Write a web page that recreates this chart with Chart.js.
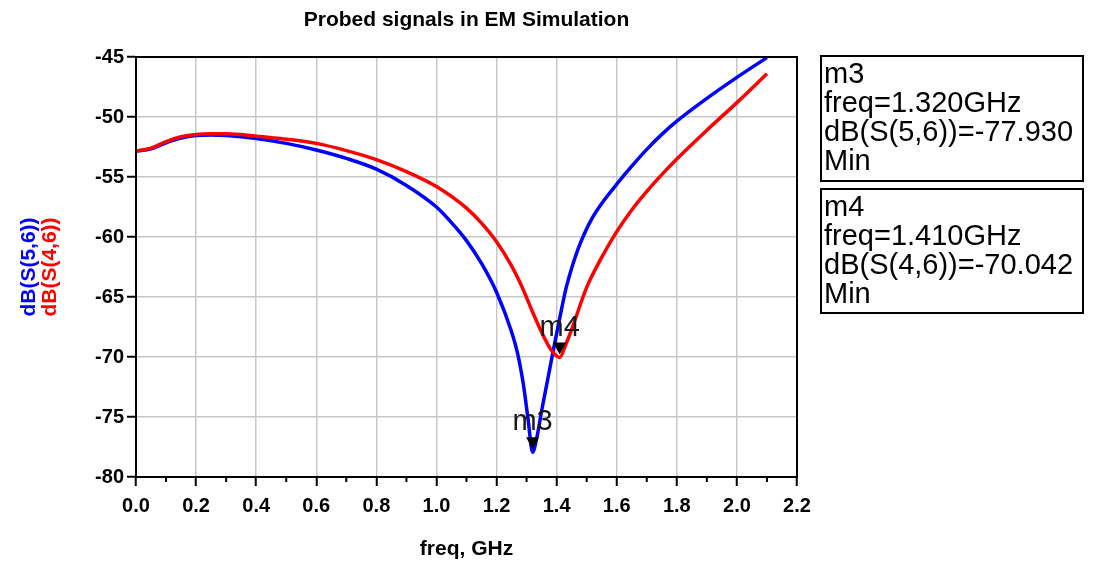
<!DOCTYPE html>
<html lang="en">
<head>
    <meta charset="UTF-8">
    <title>Probed signals in EM Simulation</title>
    <script src="https://cdn.jsdelivr.net/npm/chart.js"></script>
    <style>
        body { margin: 0; background: #fff; }
        .container { width: 1101px; height: 564px; position: relative; }
    </style>
</head>
<body>
<div class="container">
    <canvas id="emChart"></canvas>
</div>

<script>
    // dB(S(5,6)) : frequency (GHz) and value
    const f56 = [0, 0.05, 0.1, 0.15, 0.2, 0.25, 0.3, 0.4, 0.5, 0.6, 0.7, 0.8, 0.9, 1.0, 1.05,
        1.1, 1.15, 1.2, 1.25, 1.27, 1.29, 1.305, 1.32, 1.335, 1.35, 1.37, 1.39, 1.41, 1.43, 1.45,
        1.47, 1.49, 1.52, 1.55, 1.6, 1.65, 1.7, 1.75, 1.8, 1.9, 2.0, 2.1];
    const s56 = [-52.85, -52.65, -52.15, -51.75, -51.55, -51.5, -51.55, -51.8, -52.2, -52.75, -53.45, -54.35, -55.7, -57.5, -58.8,
        -60.3, -62.2, -64.6, -67.9, -69.7, -72.4, -75.2, -77.93, -76.6, -74.5, -71.9, -69.3, -66.8, -64.4, -62.6,
        -61.1, -59.85, -58.35, -57.2, -55.6, -54.1, -52.7, -51.45, -50.35, -48.45, -46.7, -45.05];

    // dB(S(4,6)) : frequency (GHz) and value
    const f46 = [0, 0.05, 0.1, 0.15, 0.2, 0.25, 0.3, 0.4, 0.5, 0.6, 0.7, 0.8, 0.9, 1.0,
        1.1, 1.15, 1.2, 1.25, 1.28, 1.3, 1.32, 1.34, 1.36, 1.38, 1.41, 1.43, 1.45, 1.5, 1.55,
        1.6, 1.65, 1.7, 1.75, 1.8, 1.9, 2.0, 2.1];
    const s46 = [-52.85, -52.6, -52.05, -51.65, -51.45, -51.4, -51.4, -51.6, -51.85, -52.2, -52.8, -53.55, -54.55, -55.8,
        -57.6, -58.85, -60.4, -62.4, -63.9, -65.05, -66.25, -67.4, -68.45, -69.35, -70.04, -69.0, -67.7, -64.2, -61.7,
        -59.55, -57.75, -56.2, -54.8, -53.5, -51.1, -48.8, -46.4];

    const xTicks = [0, 0.2, 0.4, 0.6, 0.8, 1.0, 1.2, 1.4, 1.6, 1.8, 2.0, 2.2];
    const yTicks = [-80, -75, -70, -65, -60, -55, -50, -45];

    // markers
    const markerNames = ['m3', 'm4'];
    const markerFreq = [1.320, 1.410];
    const markerValue = [-77.930, -70.042];
    const markerTrace = ['dB(S(5,6))', 'dB(S(4,6))'];

    const FONT = '"Liberation Sans", Arial, sans-serif';
    Chart.defaults.font.family = FONT;

    const overlay = {
        id: 'overlay',
        afterDraw(chart) {
            const ctx = chart.ctx;
            const a = chart.chartArea;
            const xs = chart.scales.x, ys = chart.scales.y;
            ctx.save();

            // minor x ticks
            ctx.strokeStyle = '#000';
            ctx.lineWidth = 2;
            for (let i = 0; i < xTicks.length - 1; i++) {
                const px = xs.getPixelForValue((xTicks[i] + xTicks[i + 1]) / 2);
                ctx.beginPath();
                ctx.moveTo(px, a.bottom);
                ctx.lineTo(px, a.bottom + 5);
                ctx.stroke();
            }

            // frame
            ctx.strokeRect(a.left, a.top, a.right - a.left, a.bottom - a.top);

            // title
            ctx.fillStyle = '#000';
            ctx.font = 'bold 21px ' + FONT;
            ctx.textAlign = 'center';
            ctx.textBaseline = 'middle';
            ctx.fillText('Probed signals in EM Simulation', (a.left + a.right) / 2, 20);

            // y axis titles
            const cy = (a.top + a.bottom) / 2;
            ctx.save();
            ctx.translate(29, cy);
            ctx.rotate(-Math.PI / 2);
            ctx.fillStyle = '#0000ff';
            ctx.fillText('dB(S(5,6))', 0, 0);
            ctx.restore();
            ctx.save();
            ctx.translate(50, cy);
            ctx.rotate(-Math.PI / 2);
            ctx.fillStyle = '#ff0000';
            ctx.fillText('dB(S(4,6))', 0, 0);
            ctx.restore();

            // marker triangles and labels
            ctx.font = '29px ' + FONT;
            ctx.textAlign = 'center';
            ctx.textBaseline = 'alphabetic';
            for (let i = 0; i < markerNames.length; i++) {
                const px = xs.getPixelForValue(markerFreq[i]);
                const py = ys.getPixelForValue(markerValue[i]);
                ctx.fillStyle = '#000';
                ctx.beginPath();
                ctx.moveTo(px, py - 3);
                ctx.lineTo(px - 6.5, py - 15);
                ctx.lineTo(px + 6.5, py - 15);
                ctx.closePath();
                ctx.fill();
                ctx.fillStyle = '#1a1a1a';
                ctx.fillText(markerNames[i], px, py - 22);
            }

            // marker readout boxes
            const boxes = [[821, 56, 262, 125], [821, 189, 262, 124]];
            ctx.textAlign = 'left';
            ctx.textBaseline = 'middle';
            ctx.lineWidth = 2;
            for (let i = 0; i < markerNames.length; i++) {
                const [bx, by, bw, bh] = boxes[i];
                ctx.strokeStyle = '#000';
                ctx.strokeRect(bx, by, bw, bh);
                const lines = [
                    markerNames[i],
                    'freq=' + markerFreq[i].toFixed(3) + 'GHz',
                    markerTrace[i] + '=' + markerValue[i].toFixed(3),
                    'Min'
                ];
                ctx.fillStyle = '#000';
                lines.forEach((t, k) => ctx.fillText(t, bx + 3, by + 19 + k * 29));
            }
            ctx.restore();
        }
    };

    const ctx = document.getElementById('emChart').getContext('2d');
    new Chart(ctx, {
        type: 'line',
        data: {
            datasets: [{
                label: 'dB(S(4,6))',
                data: f46.map((f, i) => ({x: f, y: s46[i]})),
                borderColor: '#ff0000',
                borderWidth: 3.5,
                pointRadius: 0,
                cubicInterpolationMode: 'monotone'
            }, {
                label: 'dB(S(5,6))',
                data: f56.map((f, i) => ({x: f, y: s56[i]})),
                borderColor: '#0000ff',
                borderWidth: 3.5,
                pointRadius: 0,
                cubicInterpolationMode: 'monotone'
            }]
        },
        options: {
            responsive: true,
            maintainAspectRatio: false,
            animation: false,
            layout: { padding: { left: 0, right: 304, top: 57, bottom: 0 } },
            plugins: { legend: { display: false }, tooltip: { enabled: false } },
            scales: {
                x: {
                    type: 'linear',
                    min: 0,
                    max: 2.2,
                    afterFit: s => { s.height = 87; },
                    afterBuildTicks: s => { s.ticks = xTicks.map(v => ({value: v})); },
                    ticks: {
                        color: '#000',
                        font: { size: 20, weight: 'bold' },
                        padding: 8,
                        maxRotation: 0,
                        callback: v => v.toFixed(1)
                    },
                    grid: { color: '#c8c8c8', lineWidth: 1.5, tickColor: '#000', tickLength: 9, tickWidth: 2 },
                    border: { display: true, color: '#000', width: 2 },
                    title: {
                        display: true,
                        text: 'freq, GHz',
                        color: '#000',
                        font: { size: 21, weight: 'bold' },
                        padding: { top: 0, bottom: 2 }
                    }
                },
                y: {
                    min: -80,
                    max: -45,
                    afterFit: s => { s.width = 136; },
                    afterBuildTicks: s => { s.ticks = yTicks.map(v => ({value: v})); },
                    ticks: {
                        color: '#000',
                        font: { size: 20, weight: 'bold' },
                        padding: 3
                    },
                    grid: { color: '#c8c8c8', lineWidth: 1.5, tickColor: '#000', tickLength: 9, tickWidth: 2 },
                    border: { display: true, color: '#000', width: 2 }
                }
            }
        },
        plugins: [overlay]
    });
</script>
</body>
</html>
